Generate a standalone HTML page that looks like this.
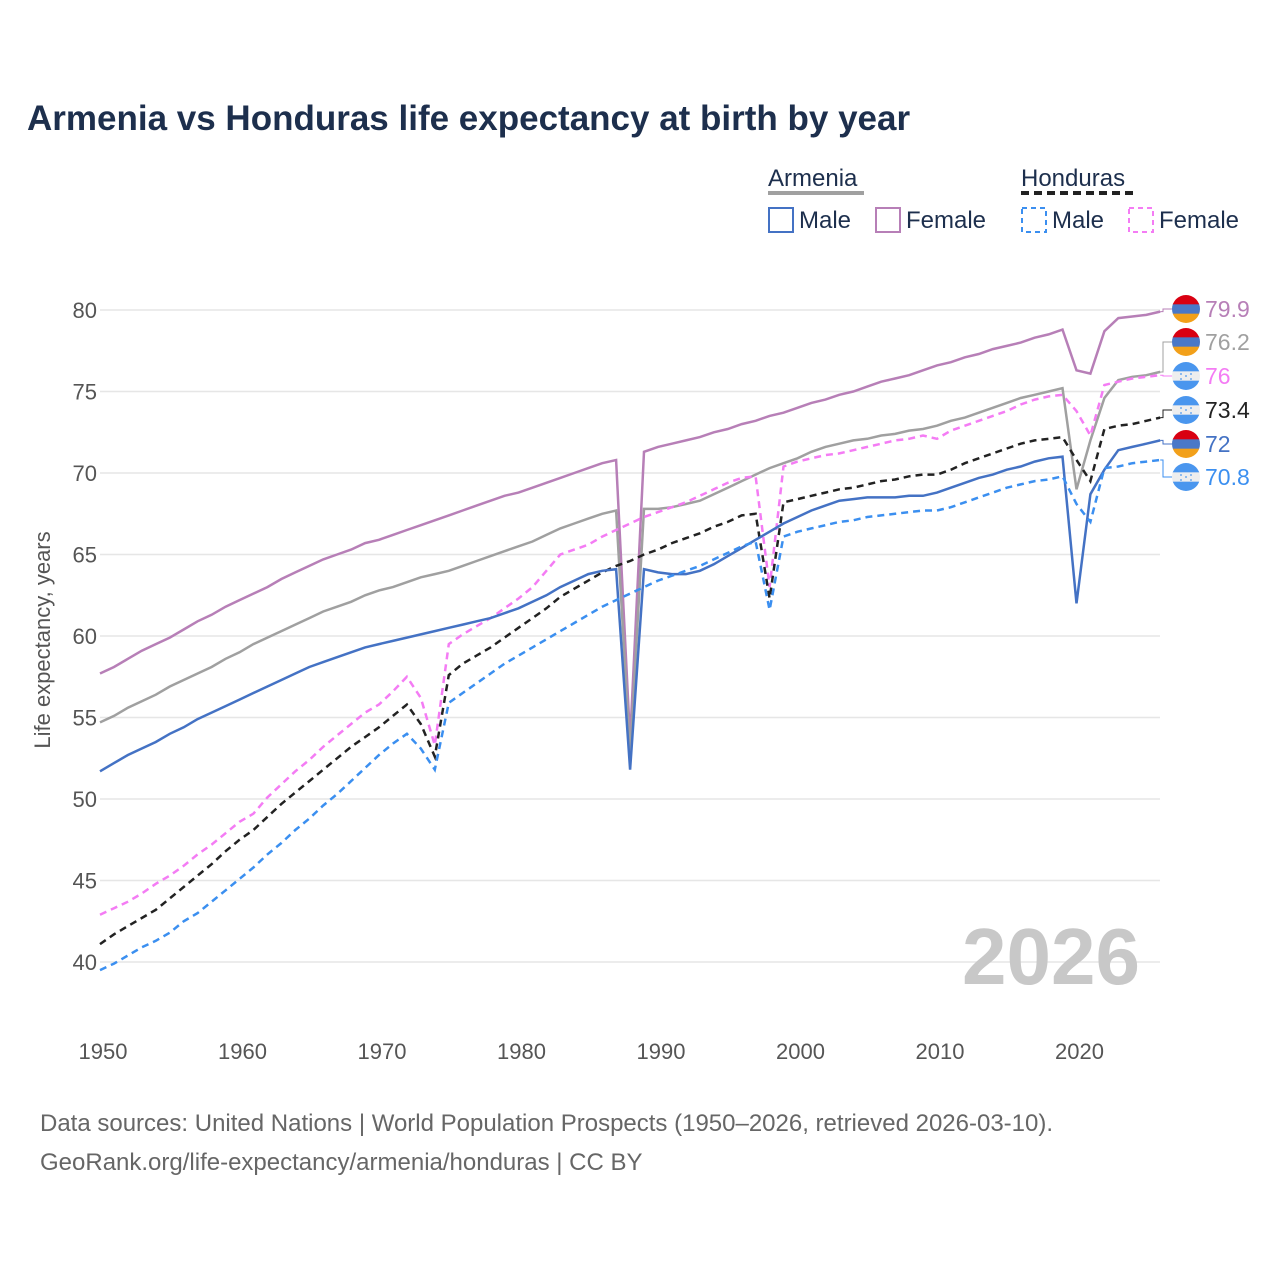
<!DOCTYPE html>
<html><head><meta charset="utf-8"><style>
body{margin:0;background:#fff;font-family:"Liberation Sans",sans-serif}
#wrap{position:relative;width:1280px;height:1280px;overflow:hidden}
</style></head><body>
<div id="wrap">
<svg id="chart" width="1280" height="1280" xmlns="http://www.w3.org/2000/svg">
<defs>
<clipPath id="cc"><circle cx="0" cy="0" r="14"/></clipPath>
</defs>
<text x="27" y="130" font-size="35" font-weight="bold" fill="#1d2f4d">Armenia vs Honduras life expectancy at birth by year</text>
<g>
<text x="768" y="186" font-size="24" fill="#1d2f4d">Armenia</text>
<line x1="768" y1="193" x2="864" y2="193" stroke="#a0a0a0" stroke-width="4"/>
<text x="1021" y="186" font-size="24" fill="#1d2f4d">Honduras</text>
<line x1="1021" y1="193" x2="1133" y2="193" stroke="#222" stroke-width="4" stroke-dasharray="8,5"/>
<rect x="769" y="208" width="24" height="24" fill="none" stroke="#4472c4" stroke-width="2"/>
<text x="799" y="228" font-size="24" fill="#1d2f4d">Male</text>
<rect x="876" y="208" width="24" height="24" fill="none" stroke="#b77fb7" stroke-width="2"/>
<text x="906" y="228" font-size="24" fill="#1d2f4d">Female</text>
<rect x="1022" y="208" width="24" height="24" fill="none" stroke="#3b8ff0" stroke-width="2" stroke-dasharray="5,4"/>
<text x="1052" y="228" font-size="24" fill="#1d2f4d">Male</text>
<rect x="1129" y="208" width="24" height="24" fill="none" stroke="#f47cf4" stroke-width="2" stroke-dasharray="5,4"/>
<text x="1159" y="228" font-size="24" fill="#1d2f4d">Female</text>
</g>
<g id="grid"></g>
<text x="1140" y="984" font-size="80" font-weight="bold" fill="#c8c8c8" text-anchor="end">2026</text>
<g id="series"></g>
<g id="labels"></g>
<text transform="translate(50,640) rotate(-90)" font-size="22" fill="#555" text-anchor="middle">Life expectancy, years</text>
<text x="40" y="1131" font-size="24" fill="#666">Data sources: United Nations | World Population Prospects (1950–2026, retrieved 2026-03-10).</text>
<text x="40" y="1170" font-size="24" fill="#666">GeoRank.org/life-expectancy/armenia/honduras | CC BY</text>
</svg>
</div>
<script>
const yTicks=[40,45,50,55,60,65,70,75,80];
const xTicks=[1950,1960,1970,1980,1990,2000,2010,2020];
const startYear=1950;
const armFemale=[57.7,58.1,58.6,59.1,59.5,59.9,60.4,60.9,61.3,61.8,62.2,62.6,63.0,63.5,63.9,64.3,64.7,65.0,65.3,65.7,65.9,66.2,66.5,66.8,67.1,67.4,67.7,68.0,68.3,68.6,68.8,69.1,69.4,69.7,70.0,70.3,70.6,70.8,53.6,71.3,71.6,71.8,72.0,72.2,72.5,72.7,73.0,73.2,73.5,73.7,74.0,74.3,74.5,74.8,75.0,75.3,75.6,75.8,76.0,76.3,76.6,76.8,77.1,77.3,77.6,77.8,78.0,78.3,78.5,78.8,76.3,76.1,78.7,79.5,79.6,79.7,79.9];
const armTotal=[54.7,55.1,55.6,56.0,56.4,56.9,57.3,57.7,58.1,58.6,59.0,59.5,59.9,60.3,60.7,61.1,61.5,61.8,62.1,62.5,62.8,63.0,63.3,63.6,63.8,64.0,64.3,64.6,64.9,65.2,65.5,65.8,66.2,66.6,66.9,67.2,67.5,67.7,52.7,67.8,67.8,67.9,68.1,68.3,68.7,69.1,69.5,69.9,70.3,70.6,70.9,71.3,71.6,71.8,72.0,72.1,72.3,72.4,72.6,72.7,72.9,73.2,73.4,73.7,74.0,74.3,74.6,74.8,75.0,75.2,69.0,72.0,74.6,75.7,75.9,76.0,76.2];
const armMale=[51.7,52.2,52.7,53.1,53.5,54.0,54.4,54.9,55.3,55.7,56.1,56.5,56.9,57.3,57.7,58.1,58.4,58.7,59.0,59.3,59.5,59.7,59.9,60.1,60.3,60.5,60.7,60.9,61.1,61.4,61.7,62.1,62.5,63.0,63.4,63.8,64.0,64.1,51.8,64.1,63.9,63.8,63.8,64.0,64.4,64.9,65.4,65.9,66.4,66.9,67.3,67.7,68.0,68.3,68.4,68.5,68.5,68.5,68.6,68.6,68.8,69.1,69.4,69.7,69.9,70.2,70.4,70.7,70.9,71.0,62.0,68.7,70.2,71.4,71.6,71.8,72.0];
const honFemale=[42.9,43.3,43.7,44.2,44.8,45.3,45.9,46.6,47.2,47.9,48.6,49.1,50.1,50.9,51.7,52.4,53.2,53.9,54.6,55.3,55.8,56.6,57.5,56.2,53.3,59.5,60.1,60.6,61.1,61.7,62.3,63.0,64.0,65.0,65.3,65.6,66.1,66.5,66.9,67.3,67.6,67.9,68.2,68.6,69.0,69.4,69.7,69.8,63.0,70.4,70.7,70.9,71.1,71.2,71.4,71.6,71.8,72.0,72.1,72.3,72.1,72.6,72.9,73.2,73.5,73.8,74.2,74.5,74.7,74.8,73.8,72.3,75.4,75.6,75.8,75.9,76.0];
const honTotal=[41.1,41.7,42.2,42.7,43.2,43.9,44.6,45.3,46.0,46.8,47.5,48.1,48.9,49.7,50.4,51.1,51.8,52.5,53.2,53.8,54.4,55.1,55.8,54.6,52.6,57.6,58.3,58.8,59.3,59.9,60.5,61.1,61.7,62.4,62.9,63.4,63.9,64.3,64.6,65.0,65.3,65.7,66.0,66.3,66.7,67.0,67.4,67.5,62.3,68.2,68.4,68.6,68.8,69.0,69.1,69.3,69.5,69.6,69.8,69.9,69.9,70.2,70.6,70.9,71.2,71.5,71.8,72.0,72.1,72.2,70.8,69.5,72.7,72.9,73.0,73.2,73.4];
const honMale=[39.5,39.9,40.4,40.9,41.3,41.8,42.5,43.0,43.7,44.4,45.1,45.8,46.6,47.3,48.1,48.8,49.6,50.3,51.1,51.9,52.7,53.4,54.0,53.1,51.8,55.9,56.5,57.1,57.7,58.3,58.8,59.3,59.8,60.3,60.8,61.3,61.8,62.2,62.6,63.0,63.4,63.7,64.0,64.3,64.7,65.1,65.5,65.8,61.6,66.1,66.4,66.6,66.8,67.0,67.1,67.3,67.4,67.5,67.6,67.7,67.7,67.9,68.2,68.5,68.8,69.1,69.3,69.5,69.6,69.8,68.1,67.0,70.3,70.4,70.6,70.7,70.8];

const NS='http://www.w3.org/2000/svg';
const X=yr=>100+(yr-1950)*13.95;
const Y=v=>962-(v-40)*16.3;
const grid=document.getElementById('grid');
yTicks.forEach(t=>{
  const l=document.createElementNS(NS,'line');
  l.setAttribute('x1',100);l.setAttribute('x2',1160);
  l.setAttribute('y1',Y(t));l.setAttribute('y2',Y(t));
  l.setAttribute('stroke','#e6e6e6');l.setAttribute('stroke-width','1.5');
  
  
  grid.appendChild(l);
  const tx=document.createElementNS(NS,'text');
  tx.setAttribute('x',97);tx.setAttribute('y',Y(t)+8);
  tx.setAttribute('text-anchor','end');tx.setAttribute('font-size','22');tx.setAttribute('fill','#555');
  tx.textContent=t;
  
  
  grid.appendChild(tx);
});
xTicks.forEach(t=>{
  const tx=document.createElementNS(NS,'text');
  tx.setAttribute('x',X(t)+3);tx.setAttribute('y',1059);
  tx.setAttribute('text-anchor','middle');tx.setAttribute('font-size','22');tx.setAttribute('fill','#555');
  tx.textContent=t;
  
  
  grid.appendChild(tx);
});
const series=[
 {d:armFemale,c:'#b77fb7',dash:null,n:'armenia-female-line',ly:309,flag:'am'},
 {d:armTotal,c:'#a0a0a0',dash:null,n:'armenia-total-line',ly:342,flag:'am'},
 {d:honFemale,c:'#f47cf4',dash:'7,5',n:'honduras-female-line',ly:376,flag:'hn'},
 {d:honTotal,c:'#222',dash:'7,5',n:'honduras-total-line',ly:410,flag:'hn'},
 {d:armMale,c:'#4472c4',dash:null,n:'armenia-male-line',ly:444,flag:'am'},
 {d:honMale,c:'#3b8ff0',dash:'7,5',n:'honduras-male-line',ly:477,flag:'hn'}
];
const sg=document.getElementById('series'),lg=document.getElementById('labels');
function flag(g,kind,cx,cy){
  const f=document.createElementNS(NS,'g');
  f.setAttribute('transform',`translate(${cx},${cy})`);
  f.setAttribute('clip-path','url(#cc)');
  
  
  const cols=kind==='am'?['#d90012','#4a78c8','#f2a01a']:['#4a96ee','#eeeeee','#4a96ee'];
  cols.forEach((c,i)=>{const r=document.createElementNS(NS,'rect');r.setAttribute('x',-14);r.setAttribute('y',-14+i*28/3);r.setAttribute('width',28);r.setAttribute('height',28/3+0.5);r.setAttribute('fill',c);f.appendChild(r);});
  if(kind==='hn'){[[-5,-2],[5,-2],[0,0],[-5,3],[5,3]].forEach(p=>{const s=document.createElementNS(NS,'circle');s.setAttribute('cx',p[0]);s.setAttribute('cy',p[1]);s.setAttribute('r',0.9);s.setAttribute('fill','#4a96ee');f.appendChild(s);});}
  g.appendChild(f);
}
series.forEach(s=>{
  const p=document.createElementNS(NS,'path');
  p.setAttribute('d',s.d.map((v,i)=>(i?'L':'M')+X(startYear+i).toFixed(1)+','+Y(v).toFixed(1)).join(''));
  p.setAttribute('fill','none');p.setAttribute('stroke',s.c);p.setAttribute('stroke-width','2.5');
  if(s.dash)p.setAttribute('stroke-dasharray',s.dash);
  
  
  sg.appendChild(p);
  const last=s.d[s.d.length-1];
  const ex=X(startYear+s.d.length-1),ey=Y(last);
  const c=document.createElementNS(NS,'path');
  c.setAttribute('d',`M${ex},${ey}H1163V${s.ly}H1172`);
  c.setAttribute('fill','none');c.setAttribute('stroke',s.c);c.setAttribute('stroke-width','1');
  
  
  lg.appendChild(c);
  flag(lg,s.flag,1186,s.ly);
  const t=document.createElementNS(NS,'text');
  t.setAttribute('x',1205);t.setAttribute('y',s.ly+8);t.setAttribute('font-size','23');t.setAttribute('fill',s.c);
  t.textContent=last;
  
  
  lg.appendChild(t);
});
</script>
</body></html>
